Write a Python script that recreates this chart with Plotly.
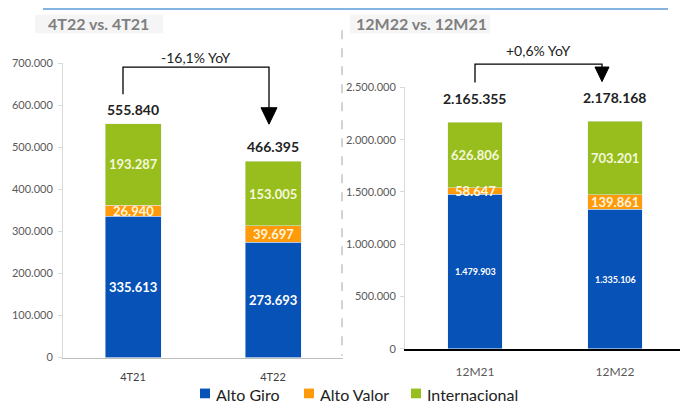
import plotly.graph_objects as go

# Volumes by segment
periods_q = ["4T21", "4T22"]
periods_y = ["12M21", "12M22"]
series_names = ["Alto Giro", "Alto Valor", "Internacional"]

alto_giro_q = [335613, 273693]
alto_valor_q = [26940, 39697]
internacional_q = [193287, 153005]
totals_q = [555840, 466395]

alto_giro_y = [1479903, 1335106]
alto_valor_y = [58647, 139861]
internacional_y = [626806, 703201]
totals_y = [2165355, 2178168]

yoy_q = "-16,1% YoY"
yoy_y = "+0,6% YoY"

colors = ["#0752B6", "#FF9A0A", "#98BE1E"]
label_colors = ["#FFFFFF", "#FFF5DC", "#F4F8DC"]
FONT = "Lato, Open Sans, sans-serif"

W, H = 680, 412


def px(x, y):
    """Convert pixel position to paper coordinates."""
    return x / W, 1 - y / H


def fmt(v):
    return f"{v:,}".replace(",", ".")


fig = go.Figure()

q_series = [alto_giro_q, alto_valor_q, internacional_q]
y_series = [alto_giro_y, alto_valor_y, internacional_y]

annotations = []

for cats, series, xa, ya, width, sizes in [
    (periods_q, q_series, "x", "y", 0.4, [13, 13, 13]),
    (periods_y, y_series, "x2", "y2", 0.39, [9, 13, 13]),
]:
    base = [0] * len(cats)
    for i, name in enumerate(series_names):
        vals = series[i]
        fig.add_trace(go.Bar(
            x=cats, y=vals, name=name, marker_color=colors[i], width=width,
            xaxis=xa, yaxis=ya, showlegend=False, hoverinfo="x+y+name",
        ))
        # segment value labels centred on each segment
        for j, cat in enumerate(cats):
            annotations.append(dict(
                x=cat, y=base[j] + vals[j] / 2, xref=xa, yref=ya,
                text=f"<b>{fmt(vals[j])}</b>", showarrow=False,
                font=dict(size=sizes[i], color=label_colors[i], family=FONT),
            ))
            base[j] += vals[j]

# Totals above stacks
for cat, tot in zip(periods_q, totals_q):
    annotations.append(dict(x=cat, y=tot, xref="x", yref="y", text=f"<b>{fmt(tot)}</b>",
                            showarrow=False, yanchor="bottom", yshift=4,
                            font=dict(size=14, color="#222222", family=FONT)))
for cat, tot in zip(periods_y, totals_y):
    annotations.append(dict(x=cat, y=tot, xref="x2", yref="y2", text=f"<b>{fmt(tot)}</b>",
                            showarrow=False, yanchor="bottom", yshift=13,
                            font=dict(size=14, color="#222222", family=FONT)))

# Section titles
for txt, x in [("4T22 vs. 4T21", 46), ("12M22 vs. 12M21", 354)]:
    ax, ay = px(x, 17)
    annotations.append(dict(x=ax, y=ay, xref="paper", yref="paper", text=f"<b>{txt}</b>",
                            showarrow=False, xanchor="left", yanchor="middle",
                            font=dict(size=16, color="#7F7F7F", family=FONT)))

# YoY labels
for txt, (x, y) in [(yoy_q, (196, 52)), (yoy_y, (538, 45))]:
    ax, ay = px(x, y)
    annotations.append(dict(x=ax, y=ay, xref="paper", yref="paper", text=txt,
                            showarrow=False, xanchor="center", yanchor="middle",
                            font=dict(size=14, color="#222222", family=FONT)))

shapes = []
# Title backdrop
for x0, x1 in [(35, 163), (350, 490)]:
    a, b = px(x0, 8)
    c, d = px(x1, 27)
    shapes.append(dict(type="rect", xref="paper", yref="paper", x0=a, y0=d, x1=c, y1=b,
                       fillcolor="#F5F5F5", line=dict(width=0), layer="below"))

# Top rule
a, b = px(43, 2)
c, _ = px(668, 2)
shapes.append(dict(type="line", xref="paper", yref="paper", x0=a, y0=b, x1=c, y1=b,
                   line=dict(color="#5B9BD5", width=1.5)))

# Dashed separator
a, b = px(342, 24)
_, d = px(342, 360)
shapes.append(dict(type="line", xref="paper", yref="paper", x0=a, y0=b, x1=a, y1=d,
                   line=dict(color="#A6A6A6", width=1, dash="dash")))


def bracket(xl, yl, ytop, xr, yhead, ytip, half):
    pts = [px(xl, yl), px(xl, ytop), px(xr, ytop), px(xr, yhead)]
    path = "M " + " L ".join(f"{p[0]},{p[1]}" for p in pts)
    shapes.append(dict(type="path", xref="paper", yref="paper", path=path,
                       line=dict(color="#000000", width=1.3)))
    tri = [px(xr - half, yhead), px(xr + half, yhead), px(xr, ytip)]
    tpath = "M " + " L ".join(f"{p[0]},{p[1]}" for p in tri) + " Z"
    shapes.append(dict(type="path", xref="paper", yref="paper", path=tpath,
                       fillcolor="#000000", line=dict(color="#000000", width=1)))


bracket(123, 90, 62, 269, 104, 121, 8)
bracket(475, 78, 59, 602, 62, 77, 7)

# Legend: colour squares with series names
for name, col, x in zip(series_names, colors, [200, 304, 411]):
    a, b = px(x, 394)
    c, d = px(x + 10, 404)
    shapes.append(dict(type="rect", xref="paper", yref="paper", x0=a, y0=d, x1=c, y1=b,
                       fillcolor=col, line=dict(width=0)))
    tx, ty = px(x + 14, 400)
    annotations.append(dict(x=tx, y=ty, xref="paper", yref="paper", text=name,
                            showarrow=False, xanchor="left", yanchor="middle",
                            font=dict(size=16, color="#222222", family=FONT)))

lx0, _ = px(63, 0)
lx1, _ = px(343, 0)
_, ly0 = px(0, 362)
_, ly1 = px(0, 58)
rx0, _ = px(405, 0)
_, ry0 = px(0, 353)
_, ry1 = px(0, 83)

tickfont = dict(size=11, color="#595959", family=FONT)

fig.update_layout(
    width=W, height=H, margin=dict(l=0, r=0, t=0, b=0),
    plot_bgcolor="white", paper_bgcolor="white",
    barmode="stack", separators=",.", showlegend=False,
    font=dict(family=FONT),
    xaxis=dict(domain=[lx0, lx1], range=[-0.5, 1.5], showline=True, linecolor="#BFBFBF",
               linewidth=1, ticks="", tickfont=dict(size=11, color="#404040", family=FONT),
               ticklabelstandoff=9, anchor="y", fixedrange=True),
    yaxis=dict(domain=[ly0, ly1], range=[0, 700000], dtick=100000, tickformat=",.0f",
               showline=True, linecolor="#D9D9D9", showgrid=False, zeroline=False,
               ticks="outside", ticklen=4, tickcolor="#D9D9D9", tickfont=tickfont,
               ticklabelstandoff=3, anchor="x"),
    xaxis2=dict(domain=[rx0, 1], range=[-0.5, 1.464], showline=True, linecolor="#000000",
                linewidth=1.5, ticks="", tickfont=dict(size=12, color="#595959", family=FONT),
                ticklabelstandoff=11, anchor="y2"),
    yaxis2=dict(domain=[ry0, ry1], range=[0, 2500000], dtick=500000, tickformat=",.0f",
                showline=True, linecolor="#D9D9D9", showgrid=False, zeroline=False,
                ticks="outside", ticklen=4, tickcolor="#D9D9D9", tickfont=tickfont,
                ticklabelstandoff=2, anchor="x2"),
    annotations=annotations, shapes=shapes,
)

fig.write_html("out.html")
